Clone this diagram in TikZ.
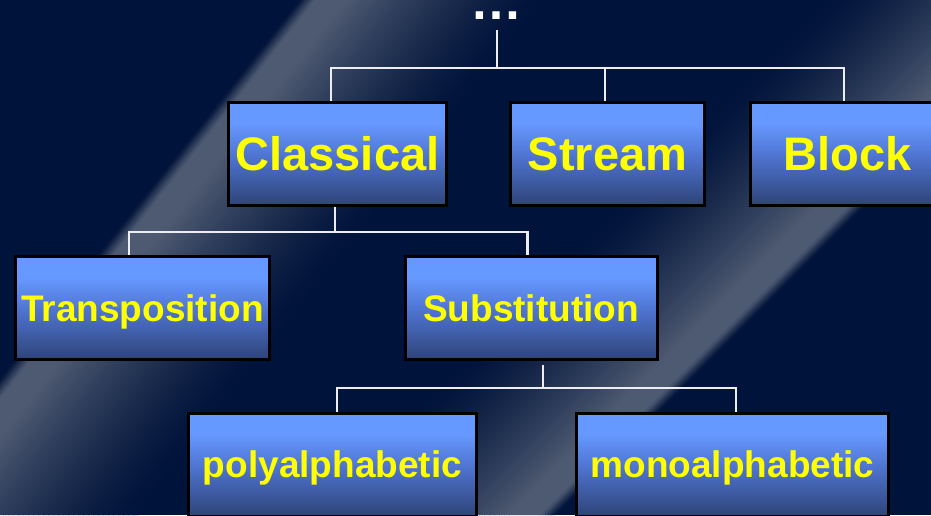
\documentclass[tikz,border=0pt]{standalone}
\usepackage{fontspec}
\setmainfont{Liberation Sans}
\definecolor{navy}{RGB}{0,19,58}
\definecolor{streak}{RGB}{78,90,113}
\definecolor{bxtop}{RGB}{102,153,255}
\definecolor{bxmid}{RGB}{80,118,212}
\definecolor{bxbot}{RGB}{46,68,120}
\definecolor{txt}{RGB}{255,255,0}
\definecolor{wire}{RGB}{238,238,242}
\pgfdeclareverticalshading{boxgrad}{100bp}{color(0bp)=(bxbot); color(25bp)=(bxbot); color(50bp)=(bxmid); color(65bp)=(bxtop); color(100bp)=(bxtop)}
\tikzset{
  box/.style={draw=black, line width=3pt, shade, shading=boxgrad, inner sep=0pt, minimum height=103pt, text=txt},
  bigbox/.style={box, font=\fontsize{47}{50}\selectfont\bfseries, text height=33.6pt, text depth=0pt},
  smallbox/.style={box, font=\fontsize{37}{40}\selectfont\bfseries, text height=26.5pt, text depth=0pt},
  conn/.style={draw=wire, line width=2.5pt},
  dots/.style={font=\fontsize{52}{56}\selectfont\bfseries, text=white, inner sep=0pt, anchor=base}
}
\begin{document}
\begin{tikzpicture}[x=1pt,y=-1pt]
\useasboundingbox (0,0) rectangle (931,515);
\clip (0,0) rectangle (931,515);
\fill[navy] (0,0) rectangle (931,515);
% streak A: sharp left edge, soft fade to the right (bottom shift -407)
\foreach \i in {0,...,4}{
  \pgfmathsetmacro\f{100*(\i+0.5)/5}
  \fill[streak!\f!navy] ({300+3*\i},0) -- ({300+3*\i+4},0) -- ({300+3*\i+4-407},515) -- ({300+3*\i-407},515) -- cycle;
}
\fill[streak] (315,0) -- (346,0) -- (-61,515) -- (-92,515) -- cycle;
\foreach \i in {0,...,39}{
  \pgfmathsetmacro\f{100*(1-(\i+0.5)/40)^1.4}
  \fill[streak!\f!navy] ({345+5*\i},0) -- ({345+5*\i+6},0) -- ({345+5*\i+6-407},515) -- ({345+5*\i-407},515) -- cycle;
}
% streak B: sharp right edge, soft fade to the left (bottom shift -515)
\foreach \i in {0,...,4}{
  \pgfmathsetmacro\f{100*(\i+0.5)/5}
  \fill[streak!\f!navy] ({1070-3*\i},0) -- ({1070-3*\i-4},0) -- ({1070-3*\i-4-515},515) -- ({1070-3*\i-515},515) -- cycle;
}
\fill[streak] (1055,0) -- (1024,0) -- (509,515) -- (540,515) -- cycle;
\foreach \i in {0,...,39}{
  \pgfmathsetmacro\f{100*(1-(\i+0.5)/40)^1.4}
  \fill[streak!\f!navy] ({1025-5*\i},0) -- ({1025-5*\i-6},0) -- ({1025-5*\i-6-515},515) -- ({1025-5*\i-515},515) -- cycle;
}

\node[dots] (root) at (496,19) {…};
\node[bigbox, minimum width=218pt] (classical) at (337.5,154) {Classical};
\node[bigbox, minimum width=194pt] (stream) at (607.5,154) {Stream};
\node[bigbox, minimum width=194pt] (block) at (847.5,154) {Block};
\node[smallbox, minimum width=254pt] (transposition) at (142.5,308) {Transposition};
\node[smallbox, minimum width=252pt] (substitution) at (531,308) {Substitution};
\node[smallbox, minimum width=288pt] (poly) at (332.5,464.5) {polyalphabetic};
\node[smallbox, minimum width=312pt] (mono) at (732.5,464.5) {monoalphabetic};

\draw[conn] ([xshift=1pt,yshift=-11pt]root.south) -- ++(0,38) -| ([xshift=-6.5pt]classical.north);
\draw[conn] ([xshift=1pt,yshift=-11pt]root.south) -- ++(0,38) -| ([xshift=-2.5pt]stream.north);
\draw[conn] ([xshift=1pt,yshift=-11pt]root.south) -- ++(0,38) -| ([xshift=-3.5pt]block.north);
\draw[conn] ([xshift=-2.5pt]classical.south) -- ++(0,25) -| ([xshift=-13.5pt]transposition.north);
\draw[conn] ([xshift=-2.5pt]classical.south) -- ++(0,25) -| ([xshift=-3.5pt]substitution.north);
\draw[conn] ([xshift=12pt,yshift=-4pt]substitution.south) -- ++(0,23) -| ([xshift=4.5pt]poly.north);
\draw[conn] ([xshift=12pt,yshift=-4pt]substitution.south) -- ++(0,23) -| ([xshift=3.5pt]mono.north);
\end{tikzpicture}
\end{document}
